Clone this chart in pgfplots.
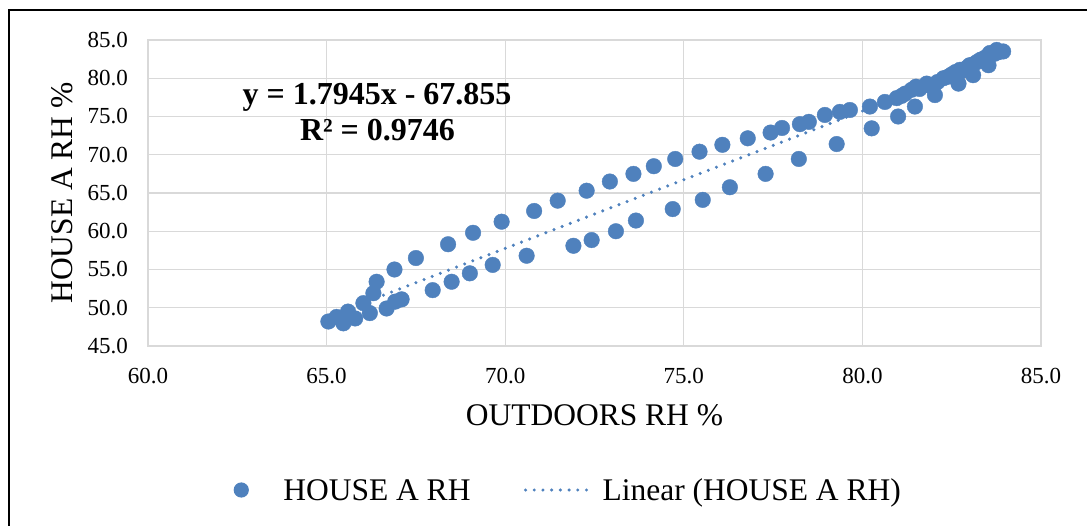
\documentclass[border=0pt]{standalone}
\usepackage{fontspec}
\setmainfont{Liberation Serif}
\usepackage{pgfplots}
\pgfplotsset{compat=1.18}

\definecolor{dotblue}{HTML}{4F81BD}
\definecolor{gridgray}{HTML}{D9D9D9}

\tikzset{trenddots/.style={dotblue, line width=3.4bp, line cap=round, dash pattern=on 0bp off 8.7bp}}

\begin{document}
\begin{tikzpicture}
% page area and chart frame
\useasboundingbox (0,0) rectangle (1087bp,526bp);
\draw[black, line width=1.6bp] (9bp,-30bp) rectangle (1120bp,516bp);

\begin{axis}[
  at={(148bp,180bp)}, anchor=south west,
  scale only axis, width=893bp, height=306bp,
  xmin=60, xmax=85, ymin=45, ymax=85,
  xtick={60,65,...,85}, ytick={45,50,...,85},
  grid=major,
  major grid style={gridgray, line width=1.3bp},
  axis line style={gridgray, line width=1.3bp},
  major tick length=0pt,
  /pgf/number format/fixed,
  /pgf/number format/fixed zerofill,
  /pgf/number format/precision=1,
  /pgf/number format/assume math mode=true,
  tick label style={font=\fontsize{23bp}{27bp}\selectfont, inner sep=0pt},
  xticklabel style={anchor=north, yshift=-22bp},
  yticklabel style={anchor=east, xshift=-20bp},
  xlabel={OUTDOORS RH \%},
  ylabel={HOUSE A RH \%},
  every axis x label/.style={at={(axis description cs:0.5,0)}, yshift=-79bp,
    anchor=base, inner sep=0pt, font=\fontsize{31.5bp}{36bp}\selectfont},
  every axis y label/.style={at={(axis description cs:0,0.5)}, xshift=-75bp,
    rotate=90, anchor=base, inner sep=0pt, font=\fontsize{31.5bp}{36bp}\selectfont},
  legend columns=2,
  legend style={at={(axis description cs:0.09574,-0.4706)}, anchor=west,
    draw=none, fill=none, inner sep=0pt,
    font=\fontsize{31.5bp}{36bp}\selectfont,
    nodes={inner sep=0pt, text height=21bp, text depth=0pt},
    cells={anchor=center}},
]
% measured humidity pairs (outdoors, house A)
\addplot[only marks, color=dotblue, mark=*, mark size=7.8bp,
  mark options={fill=dotblue, draw=none},
  legend image code/.code={%
    \path[draw=none, fill=none] (-7.5bp,-8bp) rectangle (42bp,8bp);
    \fill[dotblue, draw=none] (0bp,0bp) circle[radius=7.6bp];}]
coordinates {
  (65.05,48.2) (65.47,47.96) (65.28,48.8) (65.6,49.5) (65.8,48.6)
  (66.03,50.6) (66.21,49.3) (66.31,51.9) (66.4,53.4) (66.68,49.9)
  (66.92,50.8) (67.1,51.1) (66.9,55.0) (67.5,56.5) (67.97,52.3)
  (68.4,58.3) (68.5,53.4) (69.01,54.5) (69.1,59.8) (69.65,55.6)
  (69.9,61.25) (70.6,56.8) (70.81,62.65) (71.47,64.0) (71.91,58.1)
  (72.28,65.3) (72.42,58.85) (72.93,66.5) (73.1,60.0) (73.59,67.5)
  (73.66,61.4) (74.16,68.5) (74.69,62.9) (74.76,69.45) (75.44,70.4)
  (75.53,64.1) (76.08,71.3) (76.29,65.75) (76.79,72.15) (77.29,67.5)
  (77.43,72.9) (77.75,73.5) (78.22,69.45) (78.25,74.0) (78.5,74.3)
  (78.95,75.2) (79.28,71.4) (79.37,75.6) (79.65,75.85) (80.21,76.3)
  (80.26,73.45) (80.63,76.9) (80.96,77.4) (81.0,75.0) (81.1,77.7)
  (81.2,78.0) (81.38,78.5) (81.47,76.3) (81.5,78.9) (81.6,78.6)
  (81.8,79.3) (81.9,79.0) (82.03,77.8) (82.1,79.5) (82.27,80.0)
  (82.4,80.2) (82.5,80.5) (82.6,80.8) (82.69,79.3) (82.73,81.1)
  (82.8,81.0) (82.9,81.3) (83.0,81.7) (83.1,80.4) (83.1,81.8)
  (83.2,82.1) (83.3,82.4) (83.4,82.6) (83.5,82.9) (83.53,81.7)
  (83.57,83.3) (83.7,83.2) (83.76,83.7) (83.8,83.4) (83.94,83.5)
};
\addlegendentry{HOUSE A RH}
% least-squares trend line y = 1.7945x - 67.855
\addplot[trenddots,
  legend image code/.code={%
    \path[draw=none, fill=none] (0bp,-8bp) rectangle (132bp,8bp);
    \draw[trenddots] (55bp,0bp) -- (124bp,0bp);}]
coordinates {(65.0,48.79) (83.94,82.775)};
\addlegendentry{Linear (HOUSE A RH)}
\end{axis}

% fit equation and coefficient of determination
\node[anchor=base, inner sep=0pt, font=\fontsize{32bp}{36bp}\selectfont\bfseries]
  at (377bp,421bp) {y = 1.7945x - 67.855};
\node[anchor=base, inner sep=0pt, font=\fontsize{32bp}{36bp}\selectfont\bfseries]
  at (377.5bp,385bp) {R² = 0.9746};
\end{tikzpicture}
\end{document}
